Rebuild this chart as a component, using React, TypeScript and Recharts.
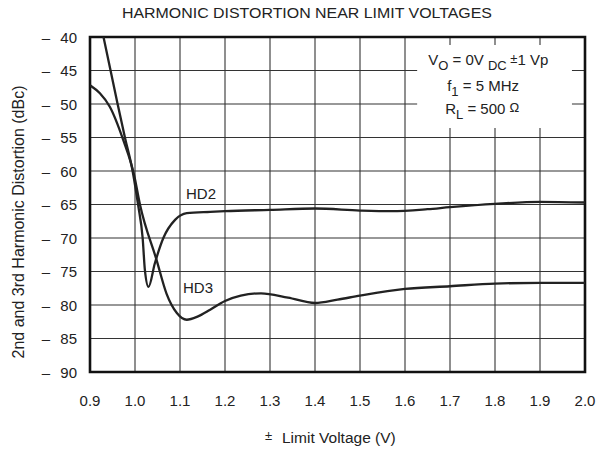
import React from "react";
import { LineChart, Line, XAxis, YAxis, CartesianGrid, ReferenceArea } from "recharts";

// values
const hd2Volts = [0.915, 0.93, 0.961, 0.978, 0.995, 1.007, 1.017, 1.022, 1.03, 1.044, 1.063, 1.089, 1.115, 1.167, 1.2, 1.3, 1.4, 1.5, 1.57, 1.65, 1.7, 1.8, 1.9, 2.0];
const hd2Dbc = [-35.4, -40, -49.9, -55.1, -60.1, -65.1, -70.0, -74.8, -77.3, -73.8, -70.0, -67.3, -66.3, -66.1, -66.0, -65.8, -65.6, -65.9, -66.0, -65.7, -65.4, -64.9, -64.6, -64.7];

const hd3Volts = [0.9, 0.922, 0.944, 0.974, 0.998, 1.011, 1.048, 1.07, 1.093, 1.115, 1.14, 1.167, 1.2, 1.235, 1.28, 1.34, 1.4, 1.45, 1.5, 1.6, 1.7, 1.8, 1.9, 2.0];
const hd3Dbc = [-47.2, -48.4, -50.4, -55.4, -60.6, -65.0, -73.3, -78.3, -81.2, -82.2, -81.7, -80.7, -79.4, -78.6, -78.25, -78.9, -79.7, -79.2, -78.6, -77.6, -77.2, -76.8, -76.7, -76.7];

const xTicks = [0.9, 1.0, 1.1, 1.2, 1.3, 1.4, 1.5, 1.6, 1.7, 1.8, 1.9, 2.0];
const yTicks = [-90, -85, -80, -75, -70, -65, -60, -55, -50, -45, -40];

const hd2 = hd2Volts.map((x, i) => ({ x, y: hd2Dbc[i] }));
const hd3 = hd3Volts.map((x, i) => ({ x, y: hd3Dbc[i] }));

const font = "'Liberation Sans', Arial, Helvetica, sans-serif";
const ink = "#222";

function XTick(props: any) {
  const { x, y, payload } = props;
  return (
    <text x={x} y={y + 34} textAnchor="middle" fontSize={15} fill={ink} fontFamily={font}>
      {Number(payload.value).toFixed(1)}
    </text>
  );
}

function YTick(props: any) {
  const { x, y, payload } = props;
  return (
    <g fontSize={15} fill={ink} fontFamily={font}>
      <text x={x - 40} y={y + 5.5} textAnchor="end">–</text>
      <text x={x - 13} y={y + 5.5} textAnchor="end">{Math.abs(payload.value)}</text>
    </g>
  );
}

// conditions note inside the white box at top right
function Conditions(props: any) {
  const vb = props.viewBox || {};
  const x0 = vb.x ?? 0;
  const y0 = vb.y ?? 0;
  return (
    <g fontSize={15} fill={ink} fontFamily={font} style={{ whiteSpace: "pre" }}>
      <text x={x0 + 11} y={y0 + 20}>
        V<tspan dy={5} fontSize={13}>O</tspan>
        <tspan dy={-5}>{" = 0V "}</tspan>
        <tspan dy={5} fontSize={13}>DC</tspan>
        <tspan dy={-7} fontSize={13}>{" ±"}</tspan>
        <tspan dy={2}>{"1 Vp"}</tspan>
      </text>
      <text x={x0 + 30} y={y0 + 46}>
        f<tspan dy={5} fontSize={13}>1</tspan>
        <tspan dy={-5}>{" = 5 MHz"}</tspan>
      </text>
      <text x={x0 + 28} y={y0 + 69}>
        R<tspan dy={5} fontSize={13}>L</tspan>
        <tspan dy={-5}>{" = 500 "}</tspan>
        <tspan dy={-2} fontSize={13}>Ω</tspan>
      </text>
    </g>
  );
}

export default function App() {
  return (
    <div style={{ width: 604, height: 449, background: "#fff", fontFamily: font }}>
      <style>{`body{margin:0}`}</style>
      <LineChart width={604} height={449} margin={{ top: 37, right: 19, left: 0, bottom: 0 }}>
        <CartesianGrid stroke="#333" strokeWidth={1.1} horizontalValues={yTicks} verticalValues={xTicks} />
        <XAxis
          type="number"
          dataKey="x"
          domain={[0.9, 2.0]}
          ticks={xTicks}
          allowDataOverflow
          axisLine={false}
          tickLine={false}
          tickSize={0}
          tickMargin={0}
          height={77}
          tick={<XTick />}
          interval={0}
        />
        <YAxis
          type="number"
          domain={[-90, -40]}
          ticks={yTicks}
          allowDataOverflow
          axisLine={false}
          tickLine={false}
          tickSize={0}
          tickMargin={0}
          width={90}
          tick={<YTick />}
          interval={0}
        />
        <ReferenceArea
          x1={1.627}
          x2={1.971}
          y1={-53.6}
          y2={-41.2}
          fill="#fff"
          fillOpacity={1}
          stroke="none"
          label={<Conditions />}
        />
        <Line data={hd2} dataKey="y" type="monotone" stroke={ink} strokeWidth={2.3} dot={false} isAnimationActive={false} />
        <Line data={hd3} dataKey="y" type="monotone" stroke={ink} strokeWidth={2.3} dot={false} isAnimationActive={false} />
        <ReferenceArea x1={0.9} x2={2.0} y1={-90} y2={-40} fill="none" stroke="#111" strokeWidth={2.6} />

        <text x={307} y={18} textAnchor="middle" fontSize={15} fill={ink} fontFamily={font} textLength={370} lengthAdjust="spacingAndGlyphs">
          HARMONIC DISTORTION NEAR LIMIT VOLTAGES
        </text>
        <text x={24} y={222} transform="rotate(-90, 24, 222)" textAnchor="middle" fontSize={16} fill={ink} fontFamily={font}>
          2nd and 3rd Harmonic Distortion (dBc)
        </text>
        <text x={265} y={440} fontSize={13} fill={ink} fontFamily={font}>±</text>
        <text x={282} y={443} fontSize={15.5} fill={ink} fontFamily={font}>Limit Voltage (V)</text>

        <text x={186} y={199} fontSize={15} fill={ink} fontFamily={font}>HD2</text>
        <text x={183} y={293} fontSize={15} fill={ink} fontFamily={font}>HD3</text>
      </LineChart>
    </div>
  );
}
